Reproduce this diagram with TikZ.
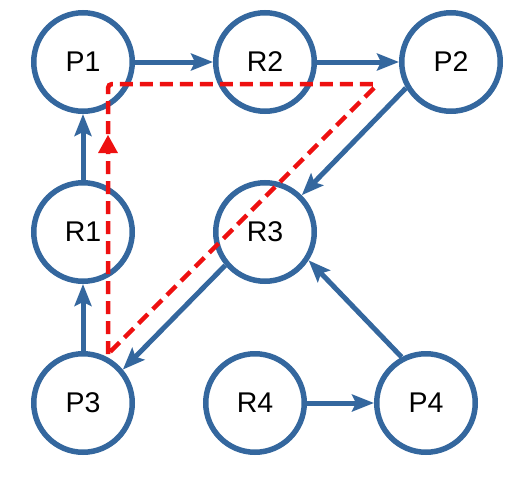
\documentclass[tikz,border=0pt]{standalone}
\usepackage{fontspec}
\setmainfont{Liberation Sans}
\usetikzlibrary{arrows.meta}
\definecolor{nodeblue}{RGB}{52,103,158}
\definecolor{cycred}{RGB}{238,16,16}
\begin{document}
\begin{tikzpicture}[x=1pt,y=-1pt,
  vert/.style={circle,draw=nodeblue,line width=5.5pt,fill=white,minimum size=98.5pt,inner sep=0pt,font=\fontsize{28.5}{34}\selectfont},
  edge/.style={draw=nodeblue,line width=5pt,-{Stealth[length=22pt,width=17pt,inset=4pt]}},
  cyc/.style={draw=cycred,line width=4.5pt,dash pattern=on 13pt off 7pt,rounded corners=4pt},
  cyctip/.style={fill=cycred}]
\useasboundingbox (0,0) rectangle (523,477);
\node[vert] (P1) at (83,62) {P1};
\node[vert] (R2) at (265,62) {R2};
\node[vert] (P2) at (451,62) {P2};
\node[vert] (R1) at (83,232) {R1};
\node[vert] (R3) at (265,232) {R3};
\node[vert] (P3) at (83,403) {P3};
\node[vert] (R4) at (255,403) {R4};
\node[vert] (P4) at (426,403) {P4};
\draw[edge] (P1.east) -- (R2.west);
\draw[edge] (R2.east) -- (P2.west);
\draw[edge] (R1.north) -- (P1.south);
\draw[edge] (P3.north) -- (R1.south);
\draw[edge] (P2.210) -- (R3.45);
\draw[edge] (R3.220) -- (P3.40);
\draw[edge] (P4.118) -- (R3.-33);
\draw[edge] (R4.east) -- (P4.west);
\coordinate (c0) at (108,354);
\coordinate (c1) at (108,84);
\coordinate (c2) at (378,84);
\coordinate (c3) at (110,352);
\draw[cyc] (c0) -- (c1) -- (c2) [rounded corners=0pt] -- (c3);
\coordinate (t0) at (108,135);
\fill[cyctip] (t0) -- ++(10,18) -- ++(-20,0) -- cycle;
\end{tikzpicture}
\end{document}
